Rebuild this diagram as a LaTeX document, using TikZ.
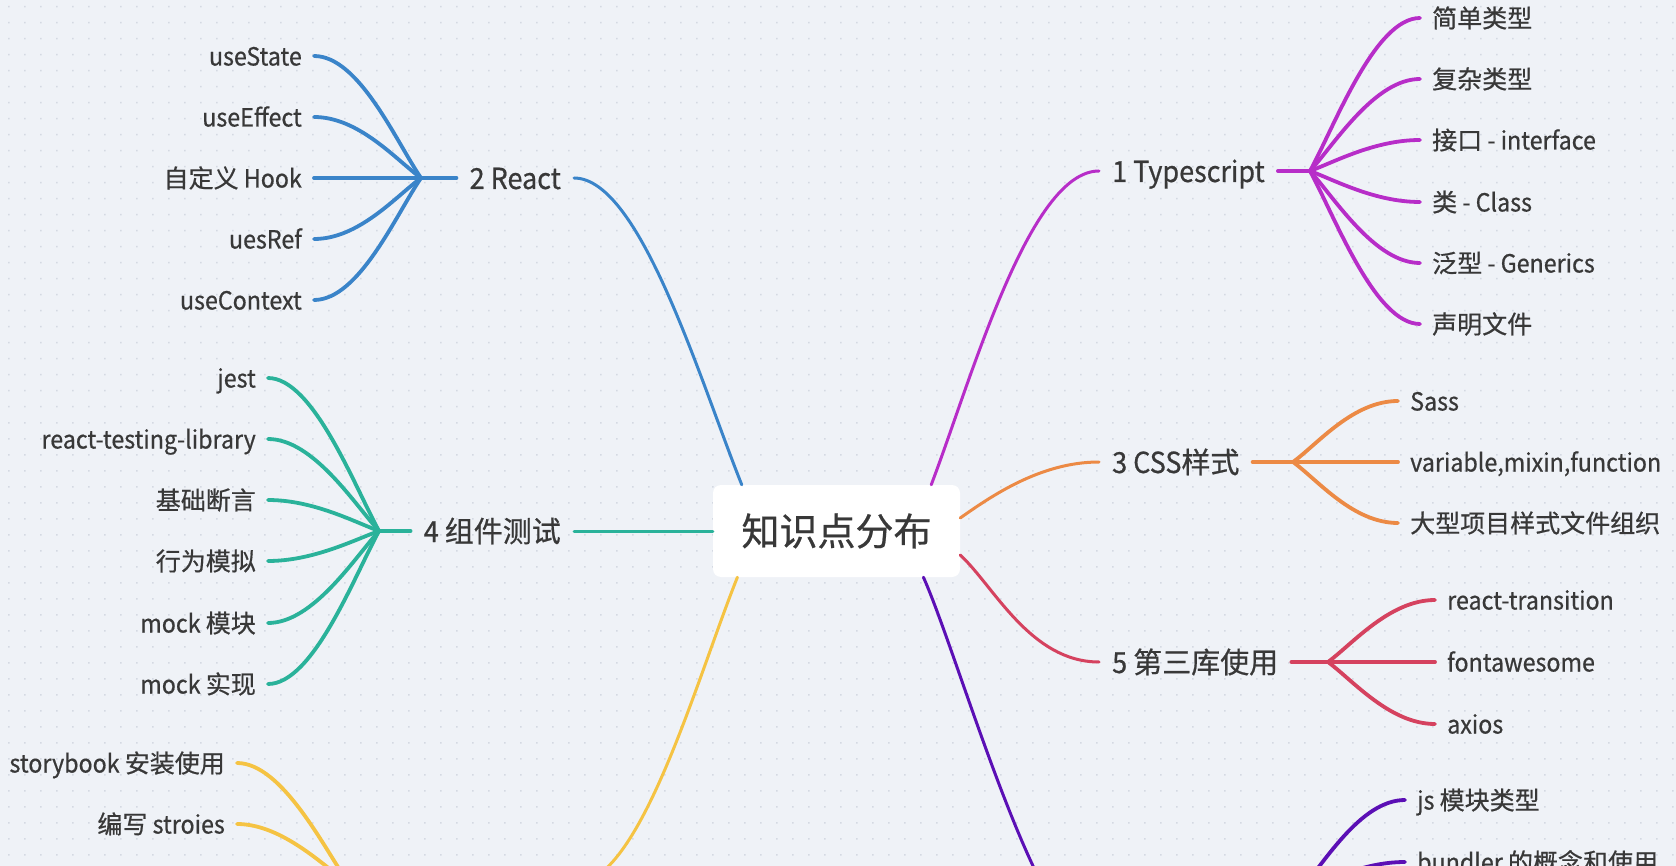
\documentclass[tikz,border=0pt]{standalone}
\usepackage{fontspec}
\setmainfont[FakeStretch=0.93,FakeBold=0.6]{Noto Sans CJK SC}
\newfontfamily\cjk[FakeBold=0.6]{Noto Sans CJK SC}
\definecolor{bg}{HTML}{EFF2F7}
\definecolor{dotc}{HTML}{D4D9E2}
\definecolor{cblue}{HTML}{3A84C9}
\definecolor{cteal}{HTML}{2AB29A}
\definecolor{cyellow}{HTML}{F5C343}
\definecolor{cmag}{HTML}{B72DC8}
\definecolor{corange}{HTML}{EC8A45}
\definecolor{cred}{HTML}{D5425F}
\definecolor{cdpurple}{HTML}{5B0FB5}
\definecolor{txt}{HTML}{383838}
\newcommand\ltwig[3]{\draw[twig] (#1) .. controls +(-25,{0.3*(#3)}) and +(45,0) .. (#2);}
\newcommand\rtwig[3]{\draw[twig] (#1) .. controls +(25,{0.3*(#3)}) and +(-45,0) .. (#2);}
\begin{document}
\begin{tikzpicture}[x=1pt,y=-1pt,
  leaf/.style={font=\fontsize{25}{30}\selectfont, text=txt, inner xsep=12pt, inner ysep=0pt, text height=22pt, text depth=3pt},
  branch/.style={font=\fontsize{29}{34}\selectfont, text=txt, inner xsep=13pt, inner ysep=0pt, text height=25.5pt, text depth=3.5pt},
  rootbox/.style={fill=white, rounded corners=8pt, minimum width=247pt, minimum height=92pt, inner sep=0pt, font=\fontsize{38}{44}\selectfont\cjk, text=txt},
  trunk/.style={line width=3pt, line cap=round},
  twig/.style={line width=3.8pt, line cap=round}]
\useasboundingbox (0,0) rectangle (1676,866);
\clip (0,0) rectangle (1676,866);
\fill[bg] (0,0) rectangle (1676,866);
\fill[dotc] \foreach \i in {0,...,104} {\foreach \j in {0,...,54} {({8+16*\i},{6+16*\j}) rectangle +(1.5,1.5)}};

% root
\node[rootbox] (root) at (836.5,531) {知识点分布};

% branch labels
\node[branch, anchor=east] (b2) at (574,178) {2 React};
\node[branch, anchor=east] (b4) at (574,531) {4 {\cjk 组件测试}};
\node[branch, anchor=west] (b1) at (1099,171) {1 Typescript};
\node[branch, anchor=west] (b3) at (1099,462) {3 CSS{\cjk 样式}};
\node[branch, anchor=west] (b5) at (1099,662) {5 {\cjk 第三库使用}};

% junctions and off-picture ends
\coordinate (j2) at (421,178);
\coordinate (j4) at (379,531);
\coordinate (j6) at (349,884);
\coordinate (j1) at (1310,171);
\coordinate (j3) at (1293,462);
\coordinate (j5) at (1328,662);
\coordinate (j7) at (1298,893);
\coordinate (t6) at (574,884);
\coordinate (t7) at (1100,950);

% leaves
\node[leaf, anchor=east] (l21) at (314,56) {useState};
\node[leaf, anchor=east] (l22) at (314,117) {useEffect};
\node[leaf, anchor=east] (l23) at (314,178) {{\cjk 自定义} Hook};
\node[leaf, anchor=east] (l24) at (314,239) {uesRef};
\node[leaf, anchor=east] (l25) at (314,300) {useContext};

\node[leaf, anchor=east] (l41) at (268,378) {jest};
\node[leaf, anchor=east] (l42) at (268,439) {react-testing-library};
\node[leaf, anchor=east] (l43) at (268,500) {\cjk 基础断言};
\node[leaf, anchor=east] (l44) at (268,561) {\cjk 行为模拟};
\node[leaf, anchor=east] (l45) at (268,623) {mock {\cjk 模块}};
\node[leaf, anchor=east] (l46) at (268,684) {mock {\cjk 实现}};

\node[leaf, anchor=east] (l61) at (237,763) {storybook {\cjk 安装使用}};
\node[leaf, anchor=east] (l62) at (237,824) {{\cjk 编写} stroies};

\node[leaf, anchor=west] (l11) at (1420,18) {\cjk 简单类型};
\node[leaf, anchor=west] (l12) at (1420,79) {\cjk 复杂类型};
\node[leaf, anchor=west] (l13) at (1420,140) {{\cjk 接口} - interface};
\node[leaf, anchor=west] (l14) at (1420,202) {{\cjk 类} - Class};
\node[leaf, anchor=west] (l15) at (1420,263) {{\cjk 泛型} - Generics};
\node[leaf, anchor=west] (l16) at (1420,324) {\cjk 声明文件};

\node[leaf, anchor=west] (l31) at (1398,401) {Sass};
\node[leaf, anchor=west] (l32) at (1398,462) {variable,mixin,function};
\node[leaf, anchor=west] (l33) at (1398,523) {\cjk 大型项目样式文件组织};

\node[leaf, anchor=west] (l51) at (1435,600) {react-transition};
\node[leaf, anchor=west] (l52) at (1435,662) {fontawesome};
\node[leaf, anchor=west] (l53) at (1435,724) {axios};

\node[leaf, anchor=west] (l71) at (1405,800) {js {\cjk 模块类型}};
\node[leaf, anchor=west] (l72) at (1405,862) {bundler {\cjk 的概念和使用}};

% trunks
\draw[trunk,cblue] (root.154) .. controls +(-42,-105) and +(66,0) .. (b2.east);
\draw[trunk,cteal] (root.west) -- (b4.east);
\draw[trunk,cyellow] (root.205) .. controls +(-42,105) and +(66,0) .. (t6);
\draw[trunk,cmag] (root.26) .. controls +(40,-105) and +(-70,0) .. (b1.west);
\draw[trunk,corange] (root.6) .. controls +(30,-21) and +(-59,0) .. (b3.west);
\draw[trunk,cred] (root.349) .. controls +(33,30) and +(-69,0) .. (b5.west);
\draw[trunk,cdpurple] (root.332) .. controls +(37,83) and +(-60,0) .. (t7);

% React
\begin{scope}[cblue]
\draw[twig] (j2) -- (b2.west);
\ltwig{j2}{l21.east}{-122}
\ltwig{j2}{l22.east}{-61}
\draw[twig] (j2) -- (l23.east);
\ltwig{j2}{l24.east}{61}
\ltwig{j2}{l25.east}{122}
\end{scope}

% tests
\begin{scope}[cteal]
\draw[twig] (j4) -- (b4.west);
\ltwig{j4}{l41.east}{-153}
\ltwig{j4}{l42.east}{-92}
\ltwig{j4}{l43.east}{-31}
\ltwig{j4}{l44.east}{30}
\ltwig{j4}{l45.east}{92}
\ltwig{j4}{l46.east}{153}
\end{scope}

% storybook
\begin{scope}[cyellow]
\ltwig{j6}{l61.east}{-121}
\ltwig{j6}{l62.east}{-60}
\end{scope}

% Typescript
\begin{scope}[cmag]
\draw[twig] (b1.east) -- (j1);
\rtwig{j1}{l11.west}{-153}
\rtwig{j1}{l12.west}{-92}
\rtwig{j1}{l13.west}{-31}
\rtwig{j1}{l14.west}{31}
\rtwig{j1}{l15.west}{92}
\rtwig{j1}{l16.west}{153}
\end{scope}

% CSS
\begin{scope}[corange]
\draw[twig] (b3.east) -- (j3);
\rtwig{j3}{l31.west}{-61}
\draw[twig] (j3) -- (l32.west);
\rtwig{j3}{l33.west}{61}
\end{scope}

% libraries
\begin{scope}[cred]
\draw[twig] (b5.east) -- (j5);
\rtwig{j5}{l51.west}{-62}
\draw[twig] (j5) -- (l52.west);
\rtwig{j5}{l53.west}{62}
\end{scope}

% modules
\begin{scope}[cdpurple]
\rtwig{j7}{l71.west}{-93}
\rtwig{j7}{l72.west}{-31}
\end{scope}
\end{tikzpicture}
\end{document}
